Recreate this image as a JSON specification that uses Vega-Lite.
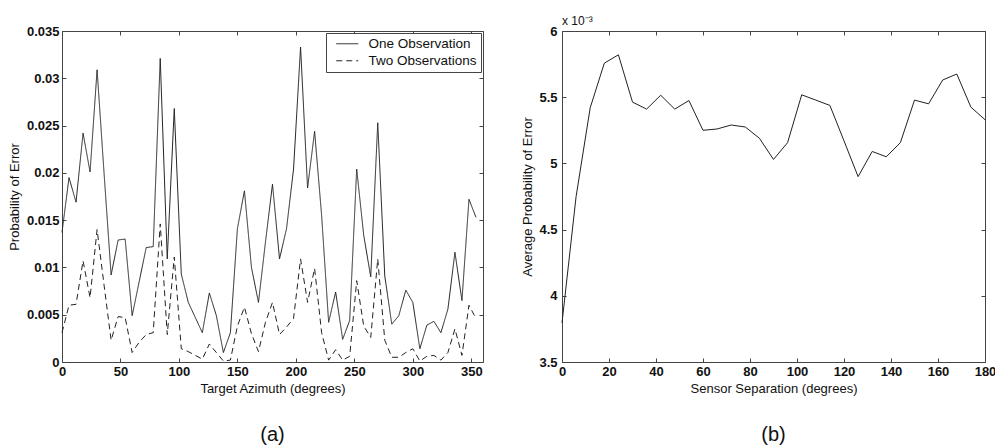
{
  "$schema": "https://vega.github.io/schema/vega-lite/v6.json",
  "background": "white",
  "padding": {"left": 7, "top": 14, "right": 5, "bottom": 5},
  "spacing": 79,
  "bounds": "flush",
  "resolve": {"legend": {"strokeDash": "independent"}},
  "config": {
    "font": "Liberation Sans",
    "view": {"stroke": "#444", "strokeWidth": 1},
    "axis": {
      "domain": false,
      "ticks": false,
      "grid": true,
      "gridColor": "#444",
      "gridOpacity": 1,
      "gridWidth": 1,
      "labelFont": "Liberation Sans",
      "labelFontSize": 13,
      "labelFontWeight": "bold",
      "labelColor": "#111",
      "titleFont": "Liberation Sans",
      "titleFontSize": 13,
      "titleFontWeight": "normal",
      "titleColor": "#111",
      "labelFlush": false,
      "labelOverlap": false,
      "labelBound": false
    },
    "title": {
      "font": "Liberation Sans",
      "fontSize": 20,
      "fontWeight": "normal",
      "color": "#111",
      "orient": "bottom",
      "anchor": "middle"
    }
  },
  "datasets": {
    "azimuth": [
      {"azimuth": 0, "series": "One Observation", "p": 0.0137},
      {"azimuth": 6, "series": "One Observation", "p": 0.0195},
      {"azimuth": 12, "series": "One Observation", "p": 0.0169},
      {"azimuth": 18, "series": "One Observation", "p": 0.0242},
      {"azimuth": 24, "series": "One Observation", "p": 0.0201},
      {"azimuth": 30, "series": "One Observation", "p": 0.0309},
      {"azimuth": 36, "series": "One Observation", "p": 0.0199},
      {"azimuth": 42, "series": "One Observation", "p": 0.0092},
      {"azimuth": 48, "series": "One Observation", "p": 0.0129},
      {"azimuth": 54, "series": "One Observation", "p": 0.0130},
      {"azimuth": 60, "series": "One Observation", "p": 0.0049},
      {"azimuth": 66, "series": "One Observation", "p": 0.0085},
      {"azimuth": 72, "series": "One Observation", "p": 0.0121},
      {"azimuth": 78, "series": "One Observation", "p": 0.0122},
      {"azimuth": 84, "series": "One Observation", "p": 0.0321},
      {"azimuth": 90, "series": "One Observation", "p": 0.0109},
      {"azimuth": 96, "series": "One Observation", "p": 0.0268},
      {"azimuth": 102, "series": "One Observation", "p": 0.0093},
      {"azimuth": 108, "series": "One Observation", "p": 0.0063},
      {"azimuth": 114, "series": "One Observation", "p": 0.0047},
      {"azimuth": 120, "series": "One Observation", "p": 0.0031},
      {"azimuth": 126, "series": "One Observation", "p": 0.0073},
      {"azimuth": 132, "series": "One Observation", "p": 0.0049},
      {"azimuth": 138, "series": "One Observation", "p": 0.0010},
      {"azimuth": 144, "series": "One Observation", "p": 0.0031},
      {"azimuth": 150, "series": "One Observation", "p": 0.0141},
      {"azimuth": 156, "series": "One Observation", "p": 0.0181},
      {"azimuth": 162, "series": "One Observation", "p": 0.0100},
      {"azimuth": 168, "series": "One Observation", "p": 0.0063},
      {"azimuth": 174, "series": "One Observation", "p": 0.0127},
      {"azimuth": 180, "series": "One Observation", "p": 0.0188},
      {"azimuth": 186, "series": "One Observation", "p": 0.0109},
      {"azimuth": 192, "series": "One Observation", "p": 0.0141},
      {"azimuth": 198, "series": "One Observation", "p": 0.0204},
      {"azimuth": 204, "series": "One Observation", "p": 0.0333},
      {"azimuth": 210, "series": "One Observation", "p": 0.0184},
      {"azimuth": 216, "series": "One Observation", "p": 0.0244},
      {"azimuth": 222, "series": "One Observation", "p": 0.0155},
      {"azimuth": 228, "series": "One Observation", "p": 0.0042},
      {"azimuth": 234, "series": "One Observation", "p": 0.0074},
      {"azimuth": 240, "series": "One Observation", "p": 0.0024},
      {"azimuth": 246, "series": "One Observation", "p": 0.0044},
      {"azimuth": 252, "series": "One Observation", "p": 0.0204},
      {"azimuth": 258, "series": "One Observation", "p": 0.0134},
      {"azimuth": 264, "series": "One Observation", "p": 0.0090},
      {"azimuth": 270, "series": "One Observation", "p": 0.0253},
      {"azimuth": 276, "series": "One Observation", "p": 0.0091},
      {"azimuth": 282, "series": "One Observation", "p": 0.0040},
      {"azimuth": 288, "series": "One Observation", "p": 0.0049},
      {"azimuth": 294, "series": "One Observation", "p": 0.0076},
      {"azimuth": 300, "series": "One Observation", "p": 0.0063},
      {"azimuth": 306, "series": "One Observation", "p": 0.0014},
      {"azimuth": 312, "series": "One Observation", "p": 0.0039},
      {"azimuth": 318, "series": "One Observation", "p": 0.0043},
      {"azimuth": 324, "series": "One Observation", "p": 0.0031},
      {"azimuth": 330, "series": "One Observation", "p": 0.0056},
      {"azimuth": 336, "series": "One Observation", "p": 0.0116},
      {"azimuth": 342, "series": "One Observation", "p": 0.0065},
      {"azimuth": 348, "series": "One Observation", "p": 0.0172},
      {"azimuth": 354, "series": "One Observation", "p": 0.0153},
      {"azimuth": 0, "series": "Two Observations", "p": 0.0031},
      {"azimuth": 6, "series": "Two Observations", "p": 0.0060},
      {"azimuth": 12, "series": "Two Observations", "p": 0.0061},
      {"azimuth": 18, "series": "Two Observations", "p": 0.0107},
      {"azimuth": 24, "series": "Two Observations", "p": 0.0068},
      {"azimuth": 30, "series": "Two Observations", "p": 0.0140},
      {"azimuth": 36, "series": "Two Observations", "p": 0.0081},
      {"azimuth": 42, "series": "Two Observations", "p": 0.0023},
      {"azimuth": 48, "series": "Two Observations", "p": 0.0048},
      {"azimuth": 54, "series": "Two Observations", "p": 0.0047},
      {"azimuth": 60, "series": "Two Observations", "p": 0.0010},
      {"azimuth": 66, "series": "Two Observations", "p": 0.0021},
      {"azimuth": 72, "series": "Two Observations", "p": 0.0029},
      {"azimuth": 78, "series": "Two Observations", "p": 0.0031},
      {"azimuth": 84, "series": "Two Observations", "p": 0.0146},
      {"azimuth": 90, "series": "Two Observations", "p": 0.0029},
      {"azimuth": 96, "series": "Two Observations", "p": 0.0111},
      {"azimuth": 102, "series": "Two Observations", "p": 0.0014},
      {"azimuth": 108, "series": "Two Observations", "p": 0.0011},
      {"azimuth": 114, "series": "Two Observations", "p": 0.0007},
      {"azimuth": 120, "series": "Two Observations", "p": 0.0003},
      {"azimuth": 126, "series": "Two Observations", "p": 0.0019},
      {"azimuth": 132, "series": "Two Observations", "p": 0.0010},
      {"azimuth": 138, "series": "Two Observations", "p": 0.0001},
      {"azimuth": 144, "series": "Two Observations", "p": 0.0002},
      {"azimuth": 150, "series": "Two Observations", "p": 0.0038},
      {"azimuth": 156, "series": "Two Observations", "p": 0.0058},
      {"azimuth": 162, "series": "Two Observations", "p": 0.0030},
      {"azimuth": 168, "series": "Two Observations", "p": 0.0011},
      {"azimuth": 174, "series": "Two Observations", "p": 0.0042},
      {"azimuth": 180, "series": "Two Observations", "p": 0.0063},
      {"azimuth": 186, "series": "Two Observations", "p": 0.0029},
      {"azimuth": 192, "series": "Two Observations", "p": 0.0037},
      {"azimuth": 198, "series": "Two Observations", "p": 0.0046},
      {"azimuth": 204, "series": "Two Observations", "p": 0.0109},
      {"azimuth": 210, "series": "Two Observations", "p": 0.0063},
      {"azimuth": 216, "series": "Two Observations", "p": 0.0099},
      {"azimuth": 222, "series": "Two Observations", "p": 0.0031},
      {"azimuth": 228, "series": "Two Observations", "p": 0.0002},
      {"azimuth": 234, "series": "Two Observations", "p": 0.0013},
      {"azimuth": 240, "series": "Two Observations", "p": 0.0002},
      {"azimuth": 246, "series": "Two Observations", "p": 0.0006},
      {"azimuth": 252, "series": "Two Observations", "p": 0.0086},
      {"azimuth": 258, "series": "Two Observations", "p": 0.0038},
      {"azimuth": 264, "series": "Two Observations", "p": 0.0026},
      {"azimuth": 270, "series": "Two Observations", "p": 0.0109},
      {"azimuth": 276, "series": "Two Observations", "p": 0.0023},
      {"azimuth": 282, "series": "Two Observations", "p": 0.0005},
      {"azimuth": 288, "series": "Two Observations", "p": 0.0005},
      {"azimuth": 294, "series": "Two Observations", "p": 0.0010},
      {"azimuth": 300, "series": "Two Observations", "p": 0.0014},
      {"azimuth": 306, "series": "Two Observations", "p": 0.0001},
      {"azimuth": 312, "series": "Two Observations", "p": 0.0006},
      {"azimuth": 318, "series": "Two Observations", "p": 0.0007},
      {"azimuth": 324, "series": "Two Observations", "p": 0.0002},
      {"azimuth": 330, "series": "Two Observations", "p": 0.0010},
      {"azimuth": 336, "series": "Two Observations", "p": 0.0035},
      {"azimuth": 342, "series": "Two Observations", "p": 0.0007},
      {"azimuth": 348, "series": "Two Observations", "p": 0.0060},
      {"azimuth": 354, "series": "Two Observations", "p": 0.0046}
    ],
    "separation": [
      {"separation": 0, "p": 0.003795},
      {"separation": 6, "p": 0.00475},
      {"separation": 12, "p": 0.00542},
      {"separation": 18, "p": 0.005757},
      {"separation": 24, "p": 0.00582},
      {"separation": 30, "p": 0.005463},
      {"separation": 36, "p": 0.00541},
      {"separation": 42, "p": 0.005515},
      {"separation": 48, "p": 0.00541},
      {"separation": 54, "p": 0.005475},
      {"separation": 60, "p": 0.00525},
      {"separation": 66, "p": 0.00526},
      {"separation": 72, "p": 0.00529},
      {"separation": 78, "p": 0.005275},
      {"separation": 84, "p": 0.00519},
      {"separation": 90, "p": 0.00503},
      {"separation": 96, "p": 0.005157},
      {"separation": 102, "p": 0.005518},
      {"separation": 108, "p": 0.005478},
      {"separation": 114, "p": 0.005438},
      {"separation": 120, "p": 0.00517},
      {"separation": 126, "p": 0.0049},
      {"separation": 132, "p": 0.00509},
      {"separation": 138, "p": 0.00505},
      {"separation": 144, "p": 0.005157},
      {"separation": 150, "p": 0.005478},
      {"separation": 156, "p": 0.00545},
      {"separation": 162, "p": 0.00563},
      {"separation": 168, "p": 0.005675},
      {"separation": 174, "p": 0.005425},
      {"separation": 180, "p": 0.00533}
    ]
  },
  "hconcat": [
    {
      "width": 421,
      "height": 331,
      "title": {"text": "(a)", "offset": 30},
      "data": {"name": "azimuth"},
      "mark": {"type": "line", "color": "#222", "strokeWidth": 1},
      "encoding": {
        "x": {
          "field": "azimuth",
          "type": "quantitative",
          "scale": {"domain": [0, 360], "nice": false},
          "axis": {
            "title": "Target Azimuth (degrees)",
            "values": [0, 50, 100, 150, 200, 250, 300, 350],
            "gridDash": [4, 323, 4, 10],
            "labelPadding": 3,
            "titlePadding": 4
          }
        },
        "y": {
          "field": "p",
          "type": "quantitative",
          "scale": {"domain": [0, 0.035], "nice": false, "zero": false},
          "axis": {
            "title": "Probability of Error",
            "values": [0, 0.005, 0.01, 0.015, 0.02, 0.025, 0.03, 0.035],
            "format": "~g",
            "gridDash": [4, 413, 4, 10],
            "labelPadding": 3,
            "titlePadding": 5
          }
        },
        "strokeDash": {
          "field": "series",
          "type": "nominal",
          "scale": {
            "domain": ["One Observation", "Two Observations"],
            "range": [[1, 0], [6, 4]]
          },
          "legend": {
            "title": null,
            "orient": "top-right",
            "offset": 2,
            "strokeColor": "#444",
            "fillColor": "white",
            "padding": 4,
            "symbolType": "M-0.09,0L3.91,0",
            "symbolSize": 121,
            "symbolStrokeWidth": 1,
            "symbolStrokeColor": "#222",
            "labelFont": "Liberation Sans",
            "labelFontSize": 13.5,
            "labelFontWeight": "normal",
            "labelColor": "#111",
            "labelOffset": 25,
            "rowPadding": 2
          }
        }
      }
    },
    {
      "width": 423,
      "height": 331,
      "title": {"text": "(b)", "offset": 30},
      "layer": [
        {
          "data": {"name": "separation"},
          "mark": {"type": "line", "color": "#222", "strokeWidth": 1},
          "encoding": {
            "x": {
              "field": "separation",
              "type": "quantitative",
              "scale": {"domain": [0, 180], "nice": false},
              "axis": {
                "title": "Sensor Separation (degrees)",
                "values": [0, 20, 40, 60, 80, 100, 120, 140, 160, 180],
                "gridDash": [4, 323, 4, 10],
                "labelPadding": 3,
                "titlePadding": 4
              }
            },
            "y": {
              "field": "p",
              "type": "quantitative",
              "scale": {"domain": [0.0035, 0.006], "nice": false, "zero": false},
              "axis": {
                "title": "Average Probability of Error",
                "values": [0.0035, 0.004, 0.0045, 0.005, 0.0055, 0.006],
                "labelExpr": "format(datum.value * 1000, '~g')",
                "gridDash": [4, 415, 4, 10],
                "labelPadding": 5,
                "titlePadding": 4
              }
            }
          }
        },
        {
          "data": {"values": [{"label": "x 10⁻³"}]},
          "mark": {
            "type": "text",
            "align": "left",
            "baseline": "alphabetic",
            "dy": -6,
            "fontSize": 12,
            "font": "Liberation Sans",
            "color": "#111"
          },
          "encoding": {
            "x": {"datum": 0, "type": "quantitative"},
            "y": {"datum": 0.006, "type": "quantitative"},
            "text": {"field": "label"}
          }
        }
      ]
    }
  ]
}
